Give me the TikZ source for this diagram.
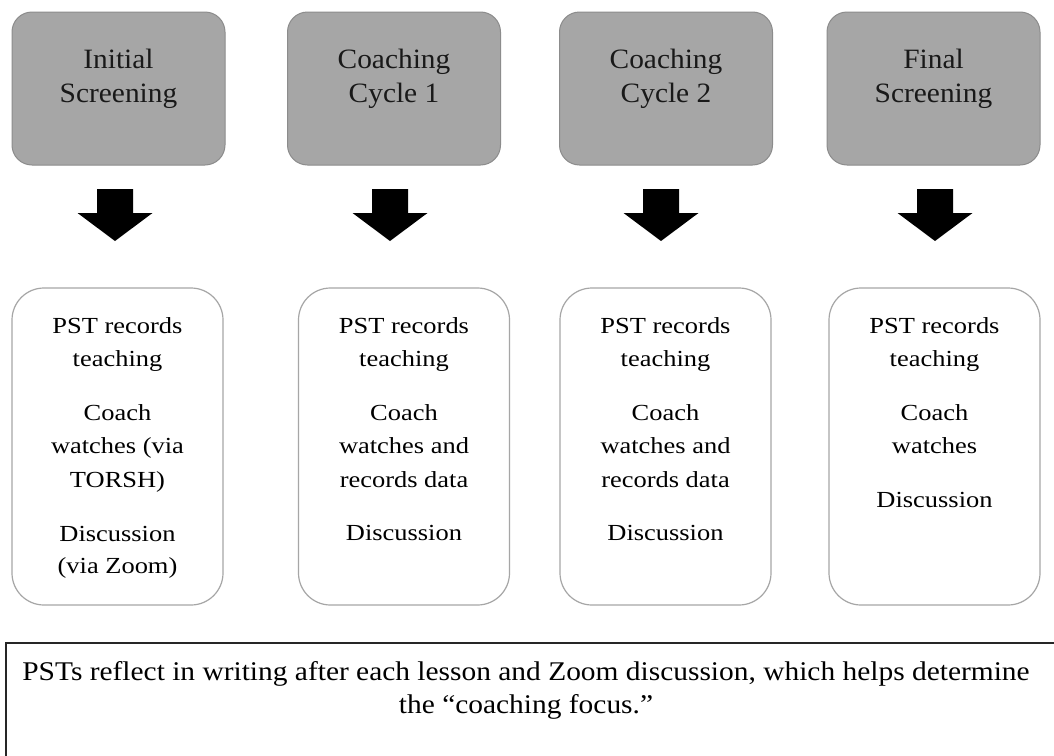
\documentclass[tikz,border=0pt]{standalone}
\usepackage{fontspec}
\usetikzlibrary{calc}
\setmainfont{Liberation Serif}
\newfontfamily\topf[FakeStretch=1.05]{Liberation Serif}
\newfontfamily\botf[FakeStretch=1.15]{Liberation Serif}
\newfontfamily\notef[FakeStretch=1.09]{Liberation Serif}
\definecolor{topfill}{HTML}{A6A6A6}
\definecolor{topline}{HTML}{8C8C8C}
\definecolor{botline}{HTML}{A6A6A6}
\tikzset{
  topbox/.style={draw=topline, fill=topfill, line width=1pt, rounded corners=20pt,
    minimum width=213pt, minimum height=153pt, inner sep=0pt},
  botbox/.style={draw=botline, fill=white, line width=1.2pt, rounded corners=32pt,
    minimum width=211pt, minimum height=317pt, inner sep=0pt},
  tline/.style={anchor=base, inner sep=0pt, font=\topf\fontsize{28}{34}\selectfont, text=black!90},
  bline/.style={anchor=base, inner sep=0pt, font=\botf\fontsize{23}{33}\selectfont, text=black},
  nline/.style={anchor=base, inner sep=0pt, font=\notef\fontsize{27}{33}\selectfont, text=black},
  blockarrow/.style={fill=black, draw=none},
}
\begin{document}
\begin{tikzpicture}[x=1pt, y=-1pt]
\useasboundingbox (0,0) rectangle (1054,755);
\clip (0,0) rectangle (1054,755);
\fill[white] (0,0) rectangle (1054,755);

% top boxes
\node[topbox] (t1) at (118.5,88.5) {};
\node[topbox] (t2) at (394,88.5) {};
\node[topbox] (t3) at (666,88.5) {};
\node[topbox] (t4) at (933.5,88.5) {};
\node[tline] (t1a) at (118.5,68) {Initial};
\node[tline] (t1b) at (118.5,102) {Screening};
\node[tline] (t2a) at (394,68) {Coaching};
\node[tline] (t2b) at (394,102) {Cycle 1};
\node[tline] (t3a) at (666,68) {Coaching};
\node[tline] (t3b) at (666,102) {Cycle 2};
\node[tline] (t4a) at (933.5,68) {Final};
\node[tline] (t4b) at (933.5,102) {Screening};

% block arrows
\foreach \cx/\nm in {115/a1, 390/a2, 661/a3, 935/a4}{
  \coordinate (\nm) at (\cx,189);
  \fill[blockarrow] ($(\nm)+(-18,0)$) -- ($(\nm)+(18,0)$) -- ($(\nm)+(18,24)$)
    -- ($(\nm)+(37.5,24)$) -- ($(\nm)+(0,52)$) -- ($(\nm)+(-37.5,24)$)
    -- ($(\nm)+(-18,24)$) -- cycle;
}

% bottom boxes
\node[botbox] (b1) at (117.5,446.5) {};
\node[botbox] (b2) at (404,446.5) {};
\node[botbox] (b3) at (665.5,446.5) {};
\node[botbox] (b4) at (934.5,446.5) {};

\node[bline] (b1a) at (117.5,333) {PST records};
\node[bline] (b1b) at (117.5,366) {teaching};
\node[bline] (b1c) at (117.5,420) {Coach};
\node[bline] (b1d) at (117.5,453) {watches (via};
\node[bline] (b1e) at (117.5,487) {TORSH)};
\node[bline] (b1f) at (117.5,541) {Discussion};
\node[bline] (b1g) at (117.5,573) {(via Zoom)};

\node[bline] (b2a) at (404,333) {PST records};
\node[bline] (b2b) at (404,366) {teaching};
\node[bline] (b2c) at (404,420) {Coach};
\node[bline] (b2d) at (404,453) {watches and};
\node[bline] (b2e) at (404,487) {records data};
\node[bline] (b2f) at (404,540) {Discussion};

\node[bline] (b3a) at (665.5,333) {PST records};
\node[bline] (b3b) at (665.5,366) {teaching};
\node[bline] (b3c) at (665.5,420) {Coach};
\node[bline] (b3d) at (665.5,453) {watches and};
\node[bline] (b3e) at (665.5,487) {records data};
\node[bline] (b3f) at (665.5,540) {Discussion};

\node[bline] (b4a) at (934.5,333) {PST records};
\node[bline] (b4b) at (934.5,366) {teaching};
\node[bline] (b4c) at (934.5,420) {Coach};
\node[bline] (b4d) at (934.5,453) {watches};
\node[bline] (b4e) at (934.5,507) {Discussion};

% bottom note
\draw[line width=1.5pt, draw=black!85] (6,800) -- (6,643) -- (1070,643);
\node[nline] (n1) at (526,680) {PSTs reflect in writing after each lesson and Zoom discussion, which helps determine};
\node[nline] (n2) at (526,713) {the “coaching focus.”};
\end{tikzpicture}
\end{document}
